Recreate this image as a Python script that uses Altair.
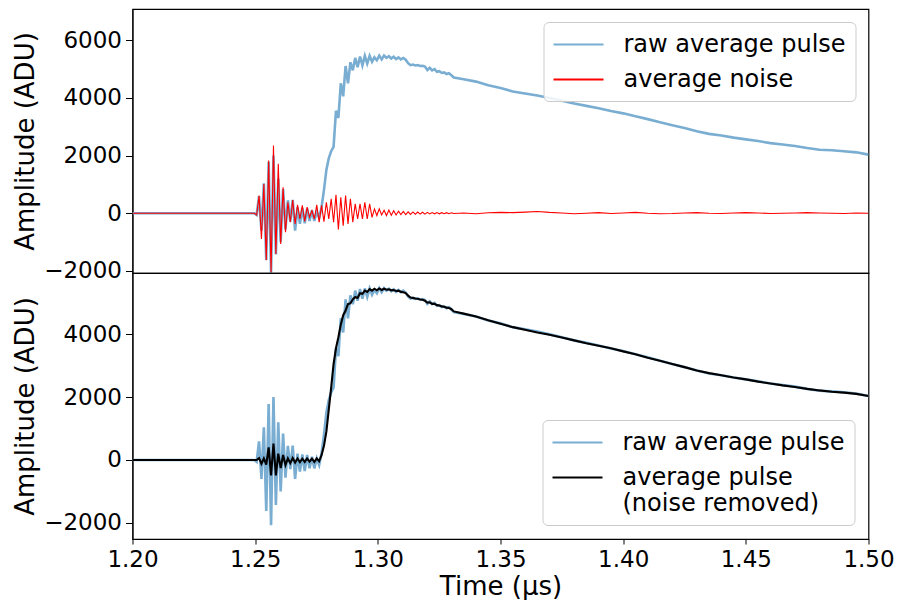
import altair as alt
import pandas as pd

# ---------------- data ----------------
series_top = ["raw average pulse", "average noise"]
series_bot = ["raw average pulse", "average pulse (noise removed)"]

# time samples (µs)
time_pre = [1.200, 1.230, 1.2496]
time_burst = [round(1.2506 + 0.00098 * k, 5) for k in range(83)]
time_tail = [round(1.335 + 0.005 * k, 3) for k in range(34)]

# average noise (ADU)
noise_pre = [0, 0, 0]
noise_burst = [
    -60,
    610, -890, 1015, -1630, 1825, -2050, 2345, -1410, 1710, -1065,
    900, -660, 380, -310, 460, -370, 290, -200, 270, -280,
    210, -140, 90, -200, 290, -310, 270, -290, 380, -200,
    500, -310, 635, -565, 550, -430, 610, -370, 500, -310,
    325, -200, 325, -200, 380, -200, 325, -140, 150, -80,
    150, -60,
    100, -80, 110, -70, 90, -60, 70, -50, 60, -45,
    50, -40, 45, -35, 40, -30, 35, -30, 30, -25,
    25, -20, 25, -20, 20, -15, 20, -15, 15, -10,
]
noise_tail = [10, -20, 15, 30, 20, 40, 60, 30, 10, -20, 0, 20, -10, 10, 30, 0, -20,
              -10, 10, 20, 0, -10, 10, 20, 10, -10, 0, 10, 20, 10, 0, -10, 10, 0]

# raw average pulse (ADU)
raw_pre = [0, 0, 0]
raw_burst = [
    -60,
    590, -600, 1040, -1620, 1780, -2070, 2000, -1430, 1200, -1000, 840, -560,
    450, -290, 460, -600, 200, -370, 180, -350, 160, -265, 100, -265, 50, -160,
    210, 800, 1500, 1900, 2150, 2300, 3550, 3300, 4500, 4050, 5100, 4500, 5230,
    4950, 5380, 5060, 5430, 5120, 5450, 5180, 5450, 5250, 5400, 5300, 5460, 5330,
    5460, 5380, 5440, 5360, 5420, 5340, 5400, 5330, 5380, 5320, 5200, 5130, 5150,
    5120, 5130, 5100, 5110, 5080, 4960, 5040, 4950, 4990, 4900, 4920, 4860, 4880,
    4820, 4850, 4780, 4700,
]
raw_tail = [4640, 4560, 4430, 4340, 4220, 4150, 4080, 3990, 3900, 3800, 3720, 3640,
            3540, 3460, 3360, 3260, 3150, 3050, 2950, 2840, 2750, 2690, 2620, 2560,
            2500, 2430, 2380, 2330, 2260, 2200, 2180, 2150, 2110, 2030]

# average pulse with noise removed (ADU)
clean_pre = [0, 0, 0]
clean_burst = [
    0,
    60, -120, 50, -150, 400, -490, 520, -490, 200, -260, 160, -160, 50,
    -100, 60, -80, 50, -70, 40, -60, 50, -50, 40, -60, 50, -40,
    150, 450, 900, 1600, 2300, 3050, 3550, 3900, 4300, 4600, 4750, 4950, 4980,
    5100, 5180, 5150, 5300, 5280, 5380, 5340, 5430, 5380, 5440, 5390, 5450, 5400,
    5440, 5410, 5420, 5390, 5400, 5370, 5380, 5340, 5330, 5300, 5220, 5160, 5150,
    5130, 5120, 5100, 5090, 5060, 5000, 5010, 4960, 4960, 4920, 4910, 4880, 4870,
    4840, 4830, 4790, 4720,
]
clean_tail = [4650, 4560, 4440, 4330, 4220, 4140, 4050, 3980, 3890, 3800, 3710, 3630,
              3550, 3450, 3360, 3250, 3150, 3050, 2950, 2840, 2760, 2690, 2620, 2560,
              2490, 2430, 2370, 2320, 2260, 2210, 2170, 2140, 2100, 2030]

x_ticks = [1.20, 1.25, 1.30, 1.35, 1.40, 1.45, 1.50]
y_ticks_top = [-2000, 0, 2000, 4000, 6000]
y_ticks_bot = [-2000, 0, 2000, 4000]

# ---------------- tables ----------------
times = time_pre + time_burst + time_tail
raw = raw_pre + raw_burst + raw_tail
noise = noise_pre + noise_burst + noise_tail
clean = clean_pre + clean_burst + clean_tail

df_raw = pd.DataFrame({"t": times, "v": raw})
df_noise = pd.DataFrame({"t": times, "v": noise})
df_clean = pd.DataFrame({"t": times, "v": clean})

BLUE = "#79add2"
W = 736
MULTI = series_bot[1]

x_scale = alt.Scale(domain=[1.2, 1.5], nice=False, zero=False)

legend_common = dict(
    title=None,
    symbolType="M-1,0H3",
    symbolSize=625,
    symbolStrokeWidth=2,
    labelFontSize=24,
    labelOffset=44,
    labelLimit=400,
    padding=9,
    rowPadding=9,
    strokeColor="#cccccc",
    cornerRadius=5,
    fillColor="rgba(255,255,255,0.85)",
    labelColor="black",
)

# ---------------- top panel ----------------
color_top = alt.Color(
    "s:N",
    scale=alt.Scale(domain=series_top, range=[BLUE, "#ff0000"]),
    legend=alt.Legend(orient="top-right", offset=13, **legend_common),
)
y_top = alt.Y(
    "v:Q",
    scale=alt.Scale(domain=[-2070, 7075], nice=False, zero=False),
    axis=alt.Axis(values=y_ticks_top, format="d", title="Amplitude (ADU)"),
)
x_top = alt.X("t:Q", scale=x_scale, axis=None)

top_raw = alt.Chart(df_raw).transform_calculate(s=f"'{series_top[0]}'").mark_line(
    strokeWidth=2.6, clip=True).encode(x=x_top, y=y_top, color=color_top)
top_noise = alt.Chart(df_noise).transform_calculate(s=f"'{series_top[1]}'").mark_line(
    strokeWidth=1.1, clip=True).encode(x=x_top, y=y_top, color=color_top)
top = alt.layer(top_raw, top_noise).properties(width=W, height=264)

# ---------------- bottom panel ----------------
color_bot = alt.Color(
    "s:N",
    scale=alt.Scale(domain=series_bot, range=[BLUE, "#000000"]),
    legend=alt.Legend(
        orient="bottom-right", offset=14,
        labelExpr=f"datum.label == '{MULTI}' ? ['average pulse', '(noise removed)'] : datum.label",
        **legend_common),
)
y_bot = alt.Y(
    "v:Q",
    scale=alt.Scale(domain=[-2510, 5940], nice=False, zero=False),
    axis=alt.Axis(values=y_ticks_bot, format="d", title="Amplitude (ADU)"),
)
x_bot = alt.X(
    "t:Q", scale=x_scale,
    axis=alt.Axis(values=x_ticks, format=".2f", title="Time (µs)", labelFlush=False,
                  tickSize=5, titlePadding=2),
)

bot_raw = alt.Chart(df_raw).transform_calculate(s=f"'{series_bot[0]}'").mark_line(
    strokeWidth=2.6, clip=True).encode(x=x_bot, y=y_bot, color=color_bot)
bot_clean = alt.Chart(df_clean).transform_calculate(s=f"'{series_bot[1]}'").mark_line(
    strokeWidth=2.1, clip=True).encode(x=x_bot, y=y_bot, color=color_bot)
bottom = alt.layer(bot_raw, bot_clean).properties(width=W, height=266)

chart = (
    alt.vconcat(top, bottom, spacing=0, bounds="flush")
    .resolve_scale(color="independent")
    .properties(padding={"left": 3.5, "top": 0, "right": 0, "bottom": 0})
    .configure(font="DejaVu Sans")
    .configure_view(stroke="black", strokeWidth=1.2)
    .configure_axis(
        labelFontSize=23,
        titleFontSize=26,
        titleFontWeight="normal",
        labelColor="black",
        titleColor="black",
        tickColor="black",
        domainColor="black",
        tickSize=7,
        labelPadding=4,
        titlePadding=5,
        grid=False,
    )
)

chart.save("out.html", embed_options={"renderer": "svg", "actions": False})
